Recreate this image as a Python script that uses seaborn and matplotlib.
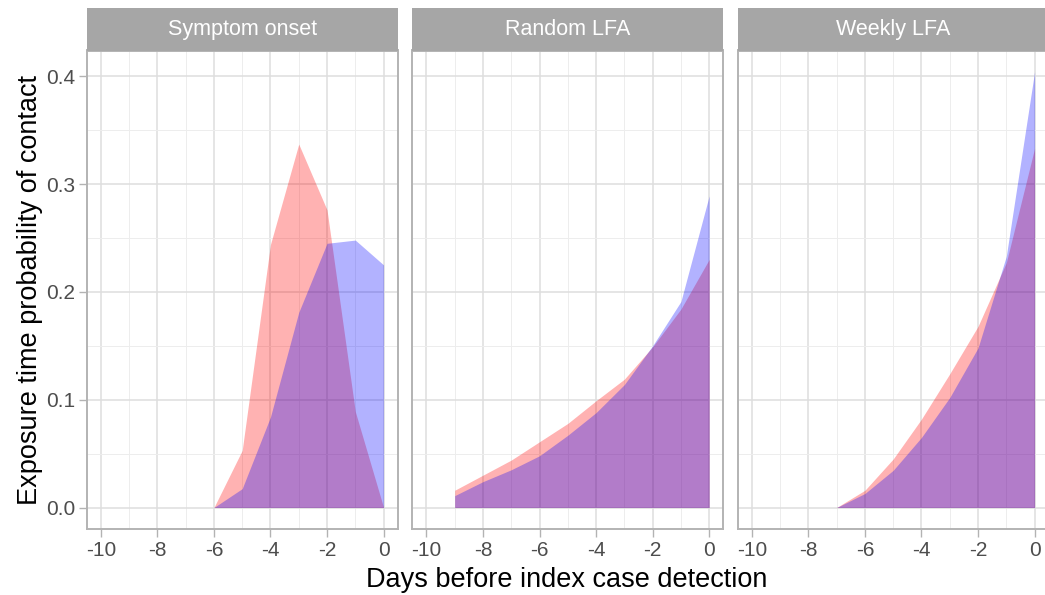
import numpy as np
import pandas as pd
import matplotlib
matplotlib.use("Agg")
import matplotlib.pyplot as plt
import seaborn as sns
from matplotlib.ticker import MultipleLocator, FixedLocator

# ---- data ----
panels = ["Symptom onset", "Random LFA", "Weekly LFA"]
groups = ["Group A", "Group B"]  # red, blue

so_days = [-6, -5, -4, -3, -2, -1, 0]
so_red = [0.0, 0.053, 0.244, 0.337, 0.276, 0.089, 0.0]
so_blue = [0.0, 0.0175, 0.084, 0.181, 0.245, 0.248, 0.225]

rl_days = [-9, -8, -7, -6, -5, -4, -3, -2, -1, 0]
rl_red = [0.016, 0.030, 0.044, 0.061, 0.078, 0.099, 0.119, 0.149, 0.184, 0.230]
rl_blue = [0.011, 0.024, 0.035, 0.048, 0.067, 0.088, 0.114, 0.150, 0.191, 0.289]

wl_days = [-7, -6, -5, -4, -3, -2, -1, 0]
wl_red = [0.0, 0.016, 0.045, 0.082, 0.124, 0.168, 0.227, 0.333]
wl_blue = [0.0, 0.013, 0.0345, 0.065, 0.102, 0.148, 0.233, 0.404]

x_ticks = [-10, -8, -6, -4, -2, 0]
x_tick_labels = ["-10", "-8", "-6", "-4", "-2", "0"]
y_ticks = [0.0, 0.1, 0.2, 0.3, 0.4]
y_tick_labels = ["0.0", "0.1", "0.2", "0.3", "0.4"]

rows = []
for p, d, r, b in [(panels[0], so_days, so_red, so_blue),
                   (panels[1], rl_days, rl_red, rl_blue),
                   (panels[2], wl_days, wl_red, wl_blue)]:
    for day, v in zip(d, r):
        rows.append((p, groups[0], day, v))
    for day, v in zip(d, b):
        rows.append((p, groups[1], day, v))
df = pd.DataFrame(rows, columns=["panel", "group", "day", "prob"])

# ---- style ----
sns.set_theme(style="white")
plt.rcParams["font.family"] = ["Liberation Sans", "DejaVu Sans"]
plt.rcParams["axes.unicode_minus"] = False

g = sns.FacetGrid(df, col="panel", col_order=panels, hue="group",
                  hue_order=groups, palette={"Group A": "red", "Group B": "blue"},
                  sharex=True, sharey=True, height=5, aspect=0.7)

def area(x, y, color=None, label=None, **kw):
    plt.fill_between(x, y, 0, color=color, alpha=0.3, linewidth=0, zorder=3)

g.map(area, "day", "prob")

fig = g.figure
fig.set_size_inches(10.45, 5.95)
fig.set_dpi(100)

W, H = 1045.0, 595.0
left_px = [86.7, 412.3, 737.7]
width_px = 311.0
top_px, bot_px = 50.5, 529.3
strip_top = 8.3

grid_major = "#DEDEDE"
grid_minor = "#EDEDED"
border = "#B3B3B3"

for i, ax in enumerate(g.axes.flat):
    ax.set_position([left_px[i] / W, 1 - bot_px / H, width_px / W, (bot_px - top_px) / H])
    ax.set_xlim(-10.5, 0.5)
    ax.set_ylim(-0.0202, 0.4238)
    ax.set_title("")
    ax.set_xlabel("")
    ax.set_ylabel("")
    ax.xaxis.set_major_locator(FixedLocator(x_ticks))
    ax.xaxis.set_minor_locator(FixedLocator([-9, -7, -5, -3, -1]))
    ax.yaxis.set_major_locator(FixedLocator(y_ticks))
    ax.yaxis.set_minor_locator(FixedLocator([0.05, 0.15, 0.25, 0.35]))
    ax.grid(True, which="major", color=grid_major, linewidth=1.1, zorder=0)
    ax.grid(True, which="minor", color=grid_minor, linewidth=0.7, zorder=0)
    ax.set_axisbelow(True)
    for s in ax.spines.values():
        s.set_visible(True)
        s.set_color(border)
        s.set_linewidth(1.4)
        s.set_zorder(5)
    ax.tick_params(which="major", length=5.5, width=1.0, color=border,
                   labelsize=15, labelcolor="#4D4D4D", pad=3)
    ax.tick_params(which="minor", length=0)
    ax.tick_params(axis="x", bottom=True)
    ax.set_xticklabels(x_tick_labels)
    if i == 0:
        ax.tick_params(axis="y", left=True, labelleft=True)
        ax.set_yticklabels(y_tick_labels)
    else:
        ax.tick_params(axis="y", left=False, labelleft=False)
    # strip
    sax = fig.add_axes([left_px[i] / W, 1 - top_px / H, width_px / W, (top_px - strip_top) / H])
    sax.set_facecolor("#A6A6A6")
    sax.set_xticks([])
    sax.set_yticks([])
    for s in sax.spines.values():
        s.set_visible(False)
    sax.text(0.5, 0.5, panels[i], ha="center", va="center", color="white",
             fontsize=15.5, transform=sax.transAxes)

fig.text(567 / W, 1 - 580 / H, "Days before index case detection",
         ha="center", va="center", fontsize=19.5, color="black")
fig.text(30 / W, 1 - 290 / H, "Exposure time probability of contact",
         ha="center", va="center", rotation=90, fontsize=19.5, color="black")

fig.savefig("out.png", dpi=100)
